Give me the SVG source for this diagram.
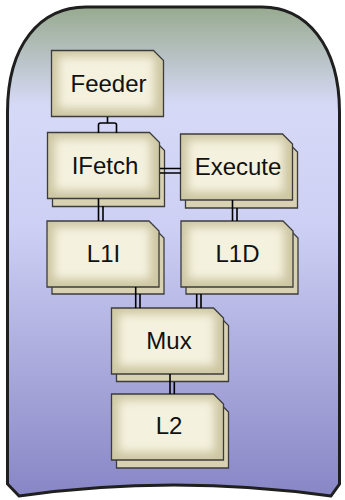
<svg xmlns="http://www.w3.org/2000/svg" width="345" height="500" viewBox="0 0 345 500">
<defs>
<linearGradient id="bg" x1="0" y1="0" x2="0" y2="1">
<stop offset="0" stop-color="#98aa90"/>
<stop offset="0.2" stop-color="#d6d9f6"/>
<stop offset="0.45" stop-color="#cdd0f4"/>
<stop offset="1" stop-color="#8886c6"/>
</linearGradient>
<filter id="soft" x="-20%" y="-20%" width="140%" height="140%">
<feGaussianBlur stdDeviation="5"/>
</filter>
<path id="shape" d="M0,0 H102 L112,10 V66 H0 Z"/>
<clipPath id="clip"><use href="#shape"/></clipPath>
<g id="front">
<use href="#shape" fill="#cdc6a2"/>
<g clip-path="url(#clip)"><rect x="7" y="6" width="96" height="52" fill="#f4f1de" filter="url(#soft)"/></g>
<use href="#shape" fill="none" stroke="#3c3c3c" stroke-width="1.3"/>
</g>
<g id="back">
<use href="#shape" fill="#d8d2b3" stroke="#3c3c3c" stroke-width="1.3"/>
</g>
</defs>
<style>
text{font-family:"Liberation Sans",Arial,sans-serif;font-size:24px;fill:#111;text-anchor:middle}
.c{stroke:#000;stroke-width:1.6;fill:none}
</style>
<path d="M7.5,484 V112 C7.5,45 40,7 86,7 H262 C306,7 339.5,45 339.5,112 V484 L331,496 Q173,474 19,496 Z" fill="url(#bg)" stroke="#1f1f1f" stroke-width="3" stroke-linejoin="miter"/>
<g id="Feeder" transform="translate(51.5,50.5)">
<use href="#front"/>
<text x="57" y="41">Feeder</text>
</g>
<g id="IFetch" transform="translate(47.5,132.5)">
<use href="#back" x="5" y="8"/>
<use href="#front"/>
<text x="57.5" y="41">IFetch</text>
</g>
<g id="Execute" transform="translate(180.5,134)">
<use href="#back" x="5" y="8"/>
<use href="#front"/>
<text x="57.5" y="40.5">Execute</text>
</g>
<g id="L1I" transform="translate(47,221)">
<use href="#back" x="5" y="7"/>
<use href="#front"/>
<text x="56.5" y="40.5">L1I</text>
</g>
<g id="L1D" transform="translate(181,221)">
<use href="#back" x="5" y="7"/>
<use href="#front"/>
<text x="56.5" y="40.5">L1D</text>
</g>
<g id="Mux" transform="translate(111.5,308)">
<use href="#back" x="5" y="7.5"/>
<use href="#front"/>
<text x="57.5" y="40.5">Mux</text>
</g>
<g id="L2" transform="translate(111.5,394)">
<use href="#back" x="5" y="8"/>
<use href="#front"/>
<text x="57.5" y="40">L2</text>
</g>
<g id="connectors" class="c">
<path class="c" d="M107.5,117 V123 M98.5,133 V125 Q98.5,123 100.5,123 H114.5 Q116.5,123 116.5,125 V133"/>
<path class="c" d="M160,168.5 H181 M160,173 H181"/>
<path class="c" d="M98.5,198.5 V221 M103,206 V221"/>
<path class="c" d="M232.5,200 V221 M237,208 V221"/>
<path class="c" d="M135.7,287 V308 M140,294 V308"/>
<path class="c" d="M196.7,294 V308 M201,294 V308"/>
<path class="c" d="M170,374 V394 M174.3,382 V394"/>
</g>
</svg>
